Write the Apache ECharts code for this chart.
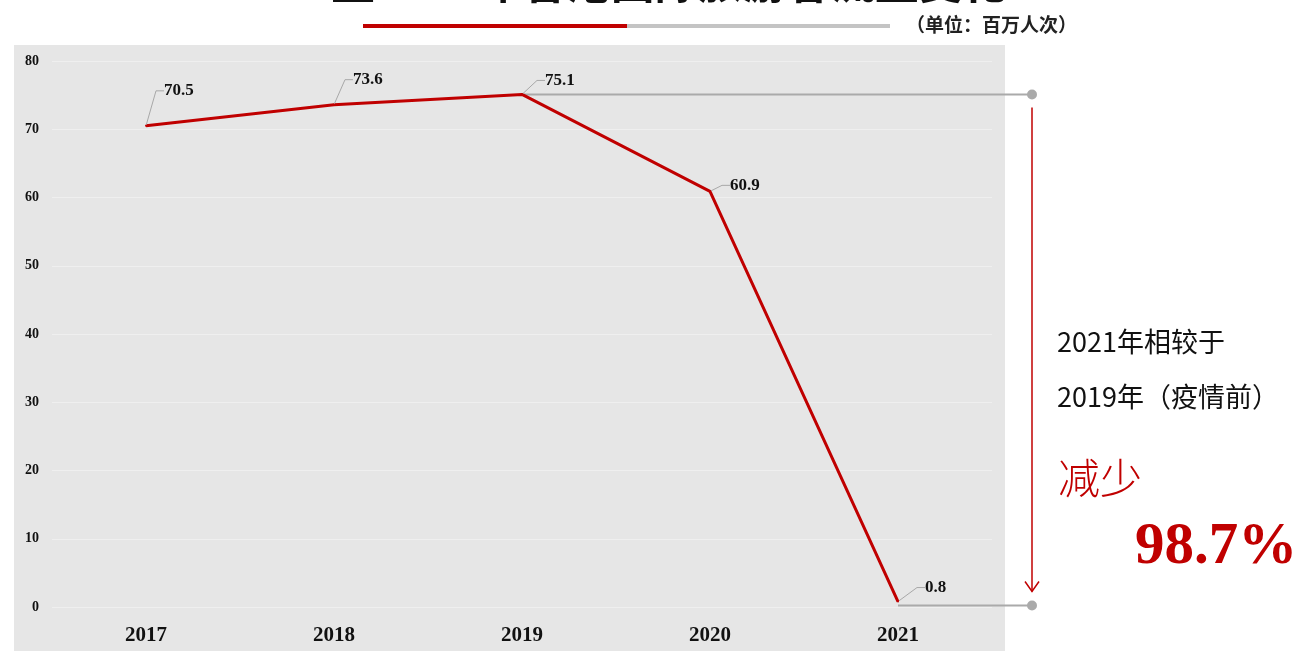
<!DOCTYPE html>
<html>
<head>
<meta charset="utf-8">
<script src="https://cdn.jsdelivr.net/npm/echarts@6/dist/echarts.min.js"></script>
<style>html,body{margin:0;padding:0;background:#fff;}#c{width:1300px;height:651px;}</style>
</head>
<body>
<div id="c"></div>
<script>
const categories = ['2017', '2018', '2019', '2020', '2021'];
const values = [70.5, 73.6, 75.1, 60.9, 0.8];
const yTicks = [0, 10, 20, 30, 40, 50, 60, 70, 80];
const labelOffsets = [[12, -35], [13, -25], [17, -14], [14, -6], [21, -14]];

const RED = '#c00000';
const serif = '"Liberation Serif","Times New Roman",serif';
const cjk = '"Noto Sans CJK SC","Noto Sans",sans-serif';

const chart = echarts.init(document.getElementById('c'));
chart.setOption({
  animation: false,
  backgroundColor: '#fff',
  grid: { left: 52, right: 308, top: 61, bottom: 44 },
  xAxis: {
    type: 'category',
    data: categories,
    boundaryGap: true,
    axisLine: { show: false },
    axisTick: { show: false },
    axisLabel: { margin: 18, fontFamily: serif, fontWeight: 'bold', fontSize: 21, color: '#111' }
  },
  yAxis: {
    type: 'value',
    min: yTicks[0],
    max: yTicks[yTicks.length - 1],
    interval: 10,
    axisLine: { show: false },
    axisTick: { show: false },
    axisLabel: { margin: 13, fontFamily: serif, fontWeight: 'bold', fontSize: 14, color: '#111' },
    splitLine: { lineStyle: { color: '#efefef', width: 1 } }
  },
  series: [{
    type: 'line',
    data: values,
    symbol: 'circle',
    symbolSize: 2,
    showSymbol: true,
    itemStyle: { color: RED },
    lineStyle: { color: RED, width: 3 },
    z: 5,
    label: {
      show: true,
      position: 'right',
      distance: 5,
      fontFamily: serif,
      fontWeight: 'bold',
      fontSize: 17,
      color: '#111'
    },
    labelLine: { show: true, length2: 8, minTurnAngle: 90, lineStyle: { color: '#a8a8a8', width: 1 } },
    labelLayout: function (p) {
      const o = labelOffsets[p.dataIndex];
      return { dx: o[0], dy: o[1] };
    }
  }]
});

const p19 = chart.convertToPixel({ seriesIndex: 0 }, [2, values[2]]);
const p21 = chart.convertToPixel({ seriesIndex: 0 }, [4, values[4]]);
const ax = 1032;

chart.setOption({
  graphic: [
    { type: 'rect', z: -10, silent: true, shape: { x: 14, y: 45, width: 991, height: 620 }, style: { fill: '#e6e6e6' } },
    { type: 'text', z: 10, style: { text: '2017至2021年香港国际旅游客流量变化', x: 617, y: 4, align: 'center', verticalAlign: 'bottom', font: 'bold 44px ' + cjk, fill: '#111' } },
    { type: 'line', shape: { x1: 363, y1: 26, x2: 627, y2: 26 }, style: { stroke: RED, lineWidth: 4 } },
    { type: 'line', shape: { x1: 627, y1: 26, x2: 890, y2: 26 }, style: { stroke: '#c4c4c4', lineWidth: 4 } },
    { type: 'text', style: { text: '（单位：百万人次）', x: 906, y: 25, verticalAlign: 'middle', font: 'bold 19px ' + cjk, fill: '#222' } },
    { type: 'line', z: 4, shape: { x1: p19[0], y1: p19[1], x2: ax, y2: p19[1] }, style: { stroke: '#aaaaaa', lineWidth: 2 } },
    { type: 'circle', z: 4, shape: { cx: ax, cy: p19[1], r: 5 }, style: { fill: '#aaaaaa' } },
    { type: 'line', z: 4, shape: { x1: p21[0], y1: p21[1] + 4, x2: ax, y2: p21[1] + 4 }, style: { stroke: '#aaaaaa', lineWidth: 2 } },
    { type: 'circle', z: 4, shape: { cx: ax, cy: p21[1] + 4, r: 5 }, style: { fill: '#aaaaaa' } },
    { type: 'line', shape: { x1: ax, y1: p19[1] + 13, x2: ax, y2: p21[1] - 10 }, style: { stroke: RED, lineWidth: 1.5 } },
    { type: 'polyline', shape: { points: [[ax - 7, p21[1] - 20], [ax, p21[1] - 10], [ax + 7, p21[1] - 20]] }, style: { stroke: RED, lineWidth: 1.5, fill: null } },
    { type: 'text', style: { text: '2021年相较于', x: 1057, y: 342, verticalAlign: 'middle', font: '27px ' + cjk, fill: '#111' } },
    { type: 'text', style: { text: '2019年（疫情前）', x: 1057, y: 397, verticalAlign: 'middle', font: '27px ' + cjk, fill: '#111' } },
    { type: 'text', style: { text: '减少', x: 1058, y: 478, verticalAlign: 'middle', font: '300 42px ' + cjk, fill: RED } },
    { type: 'text', style: { text: '98.7%', x: 1135, y: 548, verticalAlign: 'middle', font: 'bold 59px ' + serif, fill: RED } }
  ]
});
</script>
</body>
</html>
